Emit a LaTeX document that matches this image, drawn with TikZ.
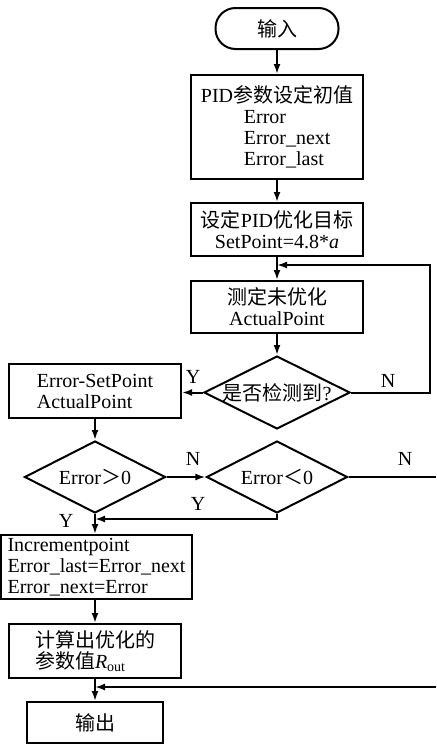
\documentclass[tikz,border=0pt]{standalone}
\usepackage{fontspec}
\setmainfont{Liberation Serif}
\newfontfamily\cjkfont{Noto Sans CJK SC}
\usepackage{tikz}
\usetikzlibrary{shapes.geometric,arrows.meta}
\newcommand{\zh}[1]{{\cjkfont #1}}
\tikzset{
  proc/.style={draw, line width=1pt, inner sep=0pt, minimum width=86pt},
  term/.style={draw, line width=1pt, rounded corners=10pt, minimum width=61.5pt, minimum height=20.5pt},
  dec/.style={draw, diamond, aspect=2, inner sep=0pt, line width=1pt, minimum width=70.5pt, minimum height=35pt},
  wire/.style={line width=1pt},
  flow/.style={wire, -{Latex[length=5pt,width=3.5pt]}},
  every node/.style={font=\fontsize{10}{10.5}\selectfont}
}
\begin{document}
\begin{tikzpicture}[x=0.5pt,y=-0.5pt]
  \useasboundingbox (0,0) rectangle (436,744);

  \node[term] (start) at (277,28.5) {\zh{输入}};
  \node[proc, minimum height=52pt, align=left] (init) at (277,127)
    {PID\zh{参数设定初值}\\\hspace*{21.5pt}Error\\\hspace*{21.5pt}Error\_next\\\hspace*{21.5pt}Error\_last};
  \node[proc, minimum height=26.5pt, align=center] (target) at (277,229.5)
    {\zh{设定}PID\zh{优化目标}\\SetPoint=4.8*\textit{a}};
  \node[proc, minimum height=26pt, align=center] (measure) at (277,307)
    {\zh{测定未优化}\\ActualPoint};
  \node[dec] (detect) at (277,392.5) {\zh{是否检测到}?};
  \node[proc, minimum height=27pt, align=left] (err) at (95,391)
    {Error-SetPoint\\ActualPoint};
  \node[dec, minimum height=36pt] (pos) at (95,477) {Error\zh{＞}0};
  \node[dec, minimum height=36pt] (neg) at (277,477) {Error\zh{＜}0};
  \node[proc, minimum width=95.5pt, minimum height=32pt, align=left] (incr) at (96.5,567)
    {Incrementpoint\\Error\_last=Error\_next\\Error\_next=Error};
  \node[proc, minimum height=27pt, align=left] (calc) at (95,651)
    {\zh{计算出优化的}\\\zh{参数值}\textit{R}\textsubscript{out}};
  \node[proc, minimum width=68pt, minimum height=20.5pt] (out) at (95,722.5) {\zh{输出}};

  % junctions and loose ends
  \coordinate (loopj) at (277,265);
  \coordinate (loopr) at (430,392.5);
  \coordinate (yesj) at (95,519);
  \coordinate (negout) at (436,477);
  \coordinate (backin) at (436,687);
  \coordinate (outj) at (95,687);

  \draw[flow] (start) -- (init);
  \draw[flow] (init) -- (target);
  \draw[flow] (target) -- (measure);
  \draw[flow] (measure) -- (detect);
  \draw[flow] (detect.east) -- (loopr) |- (loopj);
  \draw[flow] (detect.west) -- (detect.west -| err.east);
  \draw[flow] (err) -- (pos);
  \draw[flow] (pos) -- (neg);
  \draw[wire] (neg.east) -- (negout);
  \draw[flow] (neg.south) |- (yesj);
  \draw[flow] (pos.south) -- (pos.south |- incr.north);
  \draw[flow] (calc.north |- incr.south) -- (calc.north);
  \draw[flow] (calc) -- (out);
  \draw[flow] (backin) -- (outj);

  \node (ydetect) at (193,377) {Y};
  \node (ndetect) at (388,381) {N};
  \node (npos) at (193,459) {N};
  \node (nneg) at (405,459) {N};
  \node (yneg) at (198,504) {Y};
  \node (ypos) at (66,521) {Y};
\end{tikzpicture}
\end{document}
